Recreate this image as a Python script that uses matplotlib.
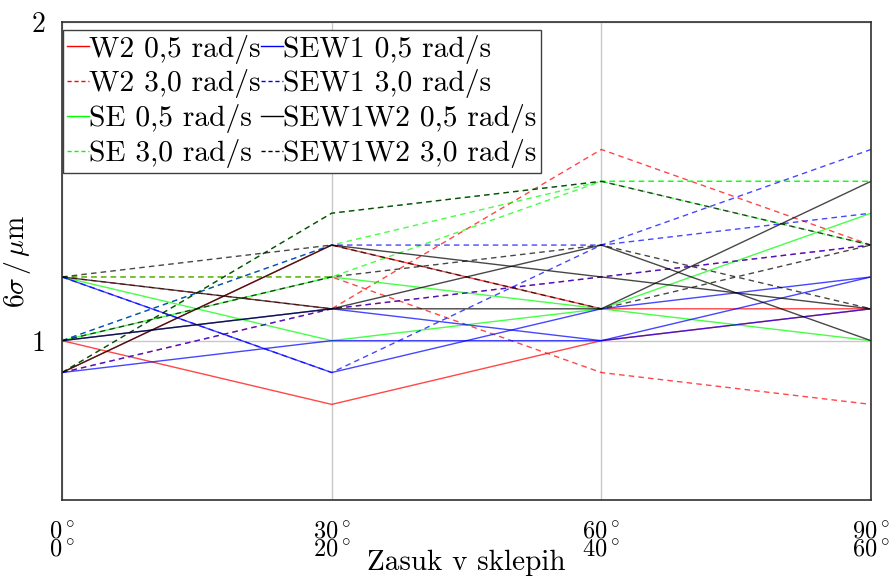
import matplotlib
matplotlib.use("Agg")
import matplotlib.pyplot as plt
from matplotlib.lines import Line2D

plt.rcParams['font.family'] = ['cmr10', 'DejaVu Serif']
plt.rcParams['mathtext.fontset'] = 'cm'
plt.rcParams['axes.unicode_minus'] = False
plt.rcParams['axes.formatter.use_mathtext'] = True

# ---- data ----
x_pos = [0, 1, 2, 3]
x_labels_top = ['0', '30', '60', '90']
x_labels_bottom = ['0', '20', '40', '60']
y_ticks = [1, 2]

w2_05 = [[1.0, 0.8, 1.0, 1.1], [0.9, 1.3, 1.1, 1.1]]
w2_30 = [[1.2, 1.1, 1.6, 1.3], [1.2, 1.2, 0.9, 0.8], [0.9, 1.1, 1.2, 1.3]]
se_05 = [[1.2, 1.0, 1.1, 1.4], [1.0, 1.2, 1.1, 1.0]]
se_30 = [[1.2, 1.2, 1.5, 1.5], [0.9, 1.4, 1.5, 1.5], [1.0, 1.3, 1.5, 1.3]]
sew1_05 = [[1.2, 0.9, 1.1, 1.2], [1.0, 1.1, 1.0, 1.2], [0.9, 1.0, 1.0, 1.1]]
sew1_30 = [[1.0, 1.3, 1.3, 1.4], [0.9, 1.1, 1.2, 1.3], [1.2, 0.9, 1.3, 1.6]]
sew1w2_05 = [[0.9, 1.3, 1.2, 1.1], [1.2, 1.1, 1.3, 1.0], [1.0, 1.1, 1.1, 1.5]]
sew1w2_30 = [[0.9, 1.4, 1.5, 1.3], [1.0, 1.2, 1.3, 1.1], [1.2, 1.3, 1.1, 1.3]]

series = [
    ('W2 0,5 rad/s', w2_05, '#ff0000', '-'),
    ('W2 3,0 rad/s', w2_30, '#ff0000', '--'),
    ('SE 0,5 rad/s', se_05, '#00ff00', '-'),
    ('SE 3,0 rad/s', se_30, '#00ff00', '--'),
    ('SEW1 0,5 rad/s', sew1_05, '#0000ff', '-'),
    ('SEW1 3,0 rad/s', sew1_30, '#0000ff', '--'),
    ('SEW1W2 0,5 rad/s', sew1w2_05, '#000000', '-'),
    ('SEW1W2 3,0 rad/s', sew1w2_30, '#000000', '--'),
]

fig = plt.figure(figsize=(8.89, 5.79), dpi=100)
ax = fig.add_axes([62 / 889, 79 / 579, (871 - 62) / 889, 478 / 579])

handles = []
for label, lines, color, ls in series:
    for vals in lines:
        ax.plot(x_pos, vals, color=color, linestyle=ls, lw=1.0,
                alpha=0.72, dashes=(4, 3) if ls == '--' else (None, None))
    handles.append(Line2D([], [], color=color, lw=1.0,
                          linestyle=ls, dashes=(3, 2) if ls == '--' else (None, None)))

ax.set_xlim(0, 3)
ax.set_ylim(0.5, 2)
ax.set_xticks(x_pos)
ax.set_xticklabels([rf'${a}^\circ$' + '\n' + rf'${b}^\circ$'
                    for a, b in zip(x_labels_top, x_labels_bottom)],
                   fontsize=17.5, linespacing=0.78)
ax.set_yticks(y_ticks)
ax.set_yticklabels([str(v) for v in y_ticks], fontsize=20)
ax.tick_params(axis='both', length=0)
ax.tick_params(axis='x', pad=15)
ax.tick_params(axis='y', pad=12)
ax.grid(True, color='#c8c8c8', lw=1.0)
ax.set_axisbelow(True)
for sp in ax.spines.values():
    sp.set_color('#303030')
    sp.set_linewidth(1.2)

ax.set_xlabel('Zasuk v sklepih', fontsize=21)
ax.xaxis.set_label_coords(0.5, -0.103)
ax.set_ylabel(r'$6\sigma\,/\,\mu$m', fontsize=20)
ax.yaxis.set_label_coords(-0.036, 0.5)

leg = ax.legend(handles, [s[0] for s in series], ncol=2, loc='upper left',
                bbox_to_anchor=(0.001, 0.983), borderaxespad=0, fontsize=21.3,
                handlelength=0.75, handletextpad=0.0, columnspacing=0.0,
                labelspacing=0.2, borderpad=0.15, fancybox=False, framealpha=1)
leg.get_frame().set_edgecolor('#404040')
leg.get_frame().set_linewidth(1.0)

fig.savefig('out.png', dpi=100)
